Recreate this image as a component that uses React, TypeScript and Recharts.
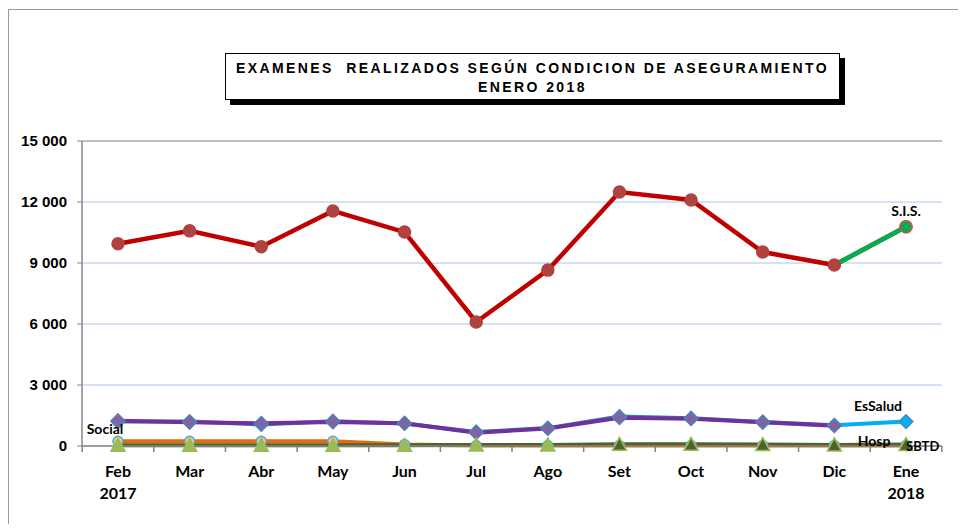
import React from "react";
import {
  LineChart,
  Line,
  XAxis,
  YAxis,
  CartesianGrid,
  ReferenceLine,
} from "recharts";

const months = ["Feb", "Mar", "Abr", "May", "Jun", "Jul", "Ago", "Set", "Oct", "Nov", "Dic", "Ene"];
const years = ["2017", "", "", "", "", "", "", "", "", "", "", "2018"];
const yTicks = [0, 3000, 6000, 9000, 12000, 15000];

const sis = [9950, 10580, 9800, 11560, 10520, 6100, 8650, 12490, 12100, 9540, 8900, 10780];
const essalud = [1200, 1200, 1060, 1220, 1110, 690, 880, 1450, 1370, 1180, 1020, 1200];
const hosp = [1245, 1165, 1120, 1180, 1120, 655, 860, 1390, 1345, 1165, 1000, null];
const social = [230, 230, 230, 230, 70, 20, 20, 20, 20, 20, 20, 20];
const sbtd = [35, 35, 35, 35, 35, 45, 55, 80, 80, 75, 55, 70];

const last = months.length - 1;
const halfBand = 35.8;

const data = months.map((m, i) => ({
  month: m,
  sis: sis[i],
  sisEnd: i >= last - 1 ? sis[i] : null,
  essalud: i < last ? essalud[i] : null,
  essEnd: i >= last - 1 ? essalud[i] : null,
  hosp: hosp[i],
  social: social[i],
  sbtd: sbtd[i],
}));

const labelFont = { fontFamily: "Lato, 'Liberation Sans', sans-serif", fontWeight: 700, fontSize: 14 };

// marker helpers
const circleDot = (fill: string, stroke: string, r: number, only?: number) => (p: any) => {
  if (p.value == null || p.cy == null || (only !== undefined && p.index !== only)) return <g key={p.key ?? p.index} />;
  return <circle key={p.key ?? p.index} cx={p.cx} cy={p.cy} r={r} fill={fill} stroke={stroke} strokeWidth={1.5} />;
};

const diamondDot = (fill: string, stroke: string, s: number, only?: number) => (p: any) => {
  if (p.value == null || p.cy == null || (only !== undefined && p.index !== only)) return <g key={p.key ?? p.index} />;
  const { cx, cy } = p;
  return (
    <polygon
      key={p.key ?? p.index}
      points={`${cx},${cy - s} ${cx + s},${cy} ${cx},${cy + s} ${cx - s},${cy}`}
      fill={fill}
      stroke={stroke}
      strokeWidth={1.2}
    />
  );
};

const triangleDot = (p: any) => {
  if (p.value == null || p.cy == null) return <g key={p.key ?? p.index} />;
  const { cx, cy, index } = p;
  const dark = index >= 7;
  return (
    <polygon
      key={p.key ?? p.index}
      points={`${cx},${cy - 7} ${cx + 7},${cy + 6} ${cx - 7},${cy + 6}`}
      fill={dark ? "#4F6228" : "#9BBB59"}
      stroke="#9BBB59"
      strokeWidth={1.5}
    />
  );
};

const seriesLabel = (idx: number, text: string, dx: number, dy: number, anchor = "middle") => (p: any) => {
  if (p.index !== idx || p.x == null) return <g key={p.index} />;
  return (
    <text key={p.index} x={p.x + dx} y={p.y + dy} textAnchor={anchor} fill="#000" {...labelFont}>
      {text}
    </text>
  );
};

const sbtdLabels = (p: any) => {
  if (p.index !== last || p.x == null) return <g key={p.index} />;
  return (
    <g key={p.index}>
      <text x={p.x - 32} y={p.y + 1} textAnchor="middle" fill="#000" {...labelFont}>Hosp</text>
      <text x={p.x} y={p.y + 6} textAnchor="start" fill="#000" {...labelFont} fontSize={13}>SBTD</text>
    </g>
  );
};

// month label plus the small tick marks between categories
const MonthTick = (props: any) => {
  const { x, y, payload, index } = props;
  const yr = years[index] || "";
  return (
    <g>
      <path d={`M${x - halfBand},${y}v6`} stroke="#7f7f7f" strokeWidth={1.5} fill="none" />
      {index === last && <path d={`M${x + halfBand},${y}v6`} stroke="#7f7f7f" strokeWidth={1.5} fill="none" />}
      <text x={x} y={y} textAnchor="middle" fill="#000" fontFamily="Lato, 'Liberation Sans', sans-serif" fontWeight={700} fontSize={16}>
        <tspan x={x} dy={31}>{payload.value}</tspan>
        {yr && <tspan x={x} dy={22}>{yr}</tspan>}
      </text>
    </g>
  );
};

const fmt = (v: number) => (v >= 1000 ? `${Math.floor(v / 1000)} ${String(v % 1000).padStart(3, "0")}` : String(v));

export default function App() {
  return (
    <div style={{ position: "relative", width: 958, height: 516, background: "#fff" }}>
      <div
        style={{
          position: "absolute",
          left: 0,
          top: 1,
          width: 958,
          height: 515,
          borderLeft: "1.5px solid #9a9a9a",
          borderTop: "1.5px solid #9a9a9a",
          boxSizing: "border-box",
        }}
      />
      {/* title box */}
      <div
        style={{
          position: "absolute",
          left: 217,
          top: 45,
          width: 615,
          height: 47,
          border: "1px solid #000",
          boxShadow: "5px 5px 0 #000",
          background: "#fff",
          boxSizing: "border-box",
          textAlign: "center",
          fontFamily: "'Liberation Sans', Arial, sans-serif",
          fontWeight: 700,
          fontSize: 14,
          letterSpacing: 2.4,
          lineHeight: "19px",
          paddingTop: 5,
          color: "#000",
          zIndex: 2,
        }}
      >
        <div style={{ whiteSpace: "pre" }}>EXAMENES  REALIZADOS SEGÚN CONDICION DE ASEGURAMIENTO</div>
        <div>ENERO 2018</div>
      </div>
      <LineChart
        width={958}
        height={516}
        data={data}
        margin={{ top: 133, right: 24, left: 0, bottom: 18 }}
        style={{ position: "absolute", left: 0, top: 0 }}
      >
        <CartesianGrid vertical={false} stroke="#C6D9F1" strokeWidth={1.5} />
        <XAxis xAxisId="frame" type="number" domain={[0, 12]} hide height={0} />
        <XAxis
          dataKey="month"
          height={60}
          padding={{ left: 36, right: 36 }}
          tick={MonthTick}
          tickLine={false}
          tickSize={0}
          tickMargin={0}
          axisLine={{ stroke: "#868686", strokeWidth: 1.5 }}
          interval={0}
        />
        <YAxis
          width={74}
          domain={[0, 15000]}
          ticks={yTicks}
          tickFormatter={fmt}
          tickSize={5}
          tickMargin={10}
          axisLine={{ stroke: "#868686", strokeWidth: 1.5 }}
          tickLine={{ stroke: "#868686" }}
          tick={{ fill: "#000", fontFamily: "'Liberation Sans', Arial, sans-serif", fontWeight: 700, fontSize: 15 }}
        />
        <ReferenceLine y={15000} stroke="#B7B7B7" strokeWidth={1.5} />
        <ReferenceLine xAxisId="frame" x={12} stroke="#B7B7B7" strokeWidth={1.5} />

        <Line
          dataKey="essalud"
          stroke="#31859C"
          strokeWidth={4}
          dot={diamondDot("#4F81BD", "#4F81BD", 7)}
          isAnimationActive={false}
        />
        <Line
          dataKey="hosp"
          stroke="#7030A0"
          strokeWidth={4}
          dot={diamondDot("#8064A2", "#4F81BD", 7)}
          isAnimationActive={false}
        />
        <Line
          dataKey="social"
          stroke="#E46C0A"
          strokeWidth={4}
          dot={circleDot("#FAC090", "#4BACC6", 5)}
          label={seriesLabel(0, "Social", -13, -7)}
          isAnimationActive={false}
        />
        <Line
          dataKey="sbtd"
          stroke="#4F6228"
          strokeWidth={4}
          dot={triangleDot}
          label={sbtdLabels}
          isAnimationActive={false}
        />
        <Line
          dataKey="sis"
          stroke="#C00000"
          strokeWidth={4.5}
          dot={circleDot("#B0433F", "#B0433F", 6)}
          isAnimationActive={false}
        />
        <Line
          dataKey="sisEnd"
          stroke="#00B050"
          strokeWidth={4.5}
          dot={circleDot("#00B050", "#D9534F", 6, last)}
          label={seriesLabel(last, "S.I.S.", 0, -11)}
          isAnimationActive={false}
        />
        <Line
          dataKey="essEnd"
          stroke="#00B0F0"
          strokeWidth={4}
          dot={diamondDot("#00B0F0", "#4F81BD", 7, last)}
          label={seriesLabel(last, "EsSalud", -28, -11)}
          isAnimationActive={false}
        />
      </LineChart>
    </div>
  );
}
